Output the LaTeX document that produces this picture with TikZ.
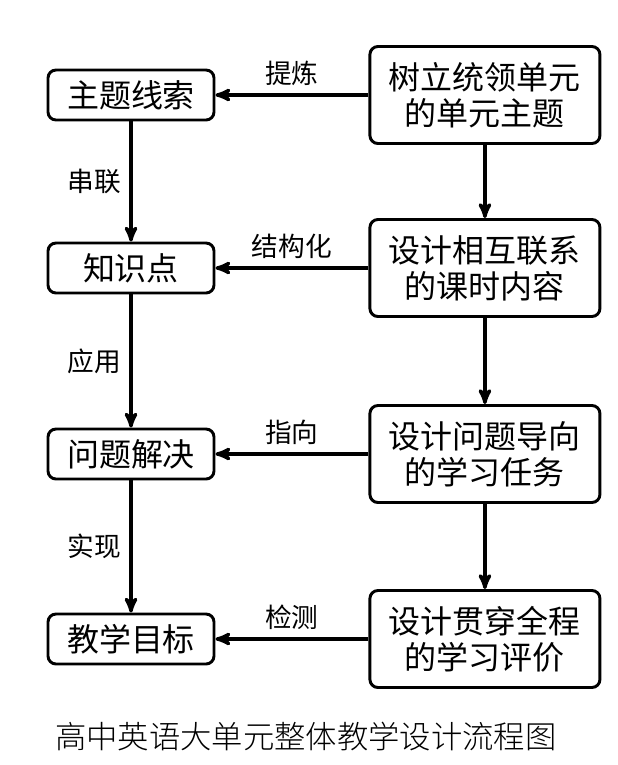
\documentclass[tikz,border=0pt]{standalone}
\usepackage{fontspec}
\setmainfont{Noto Sans CJK SC}
\newfontfamily\thinfont{Noto Sans CJK SC Light}
\usetikzlibrary{arrows,positioning}

\begin{document}
\begin{tikzpicture}[x=0.75pt,y=-0.75pt,>=stealth',auto=right,node distance=114.75pt,
        box/.style={draw,rounded corners=6pt,line width=2.2pt,align=center,inner sep=0pt},
        goal/.style={box,minimum width=124.5pt,minimum height=37.5pt,font=\fontsize{24}{27}\selectfont},
        plan/.style={box,minimum width=172.5pt,minimum height=72.75pt,font=\fontsize{24}{27}\selectfont},
        link/.style={font=\fontsize{20}{22}\selectfont,inner sep=6pt}]

                \useasboundingbox (0,0) rectangle (618,765);

                \node[goal] (z1) at (131,95) {主题线索};

                \node[goal] (z2) at (131,268) {知识点};

                \node[goal] (z3) at (131,454) {问题解决};

                \node[goal] (z4) at (131,639) {教学目标};

                \node[plan] (t1) [right=of z1] {树立统领单元\\的单元主题};

                \node[plan] (t2) [right=of z2] {设计相互联系\\的课时内容};

                \node[plan] (t3) [right=of z3] {设计问题导向\\的学习任务};

                \node[plan] (t4) [right=of z4] {设计贯穿全程\\的学习评价};

                

                \path[->,line width=2.6pt] (t1) edge node[link] {提炼} (z1)

                               edge (t2)

                          (t2) edge node[link] {结构化} (z2)

                               edge (t3)

                          (t3) edge node[link] {指向} (z3)

                               edge (t4)

                          (t4) edge node[link] {检测} (z4)

                          (z1) edge node[link] {串联} (z2)

                          (z2) edge node[link] {应用} (z3)

                          (z3) edge node[link] {实现} (z4);

                

                \node[font=\thinfont\fontsize{23.5}{26}\selectfont] (title) at (306,737) {高中英语大单元整体教学设计流程图};

            \end{tikzpicture}
\end{document}
